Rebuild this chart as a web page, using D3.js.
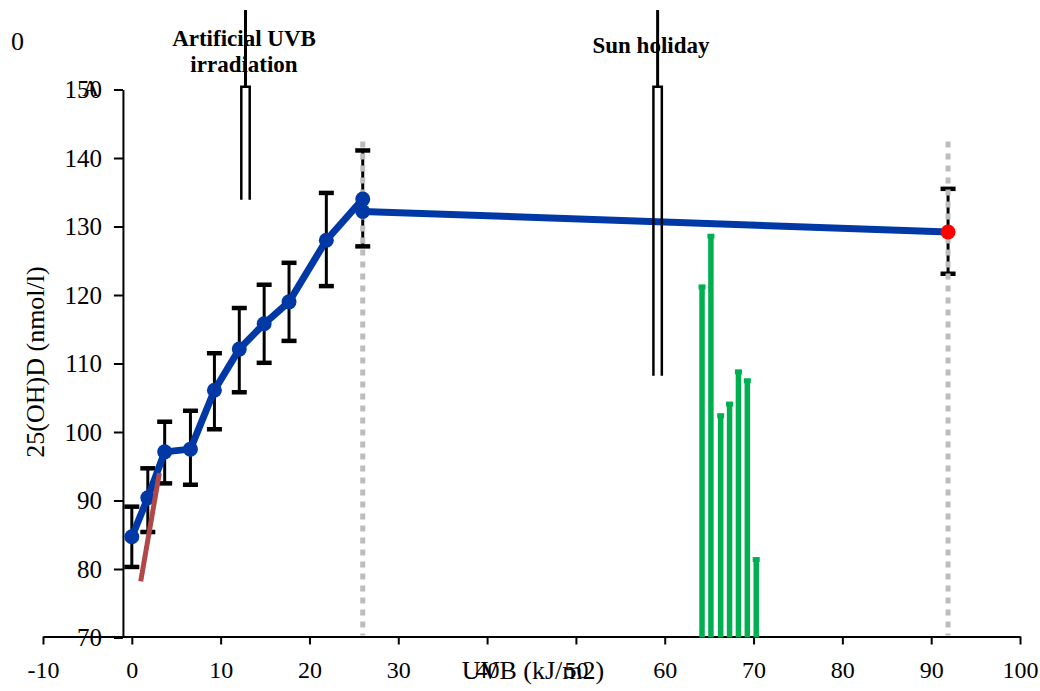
<!DOCTYPE html>
<html>
<head>
<meta charset="utf-8">
<script src="https://cdn.jsdelivr.net/npm/d3@7"></script>
<style>
  body { margin: 0; background: #fff; }
  text { font-family: "Liberation Serif", "Times New Roman", serif; fill: #000; }
</style>
</head>
<body>
<svg id="chart" width="1040" height="691"></svg>
<script>
// values
const xTickValues = [-10, 0, 10, 20, 30, 40, 50, 60, 70, 80, 90, 100];
const yTickValues = [70, 80, 90, 100, 110, 120, 130, 140, 150];

const uvbDose  = [0, 1.8, 3.7, 6.6, 9.3, 12.1, 14.9, 17.7, 21.9, 26.0, 26.0, 91.9];
const meanVitD = [84.7, 90.4, 97.1, 97.5, 106.1, 112.1, 115.8, 119.0, 128.0, 134.0, 132.2, 129.2];
const errLow   = [80.3, 85.4, 92.5, 92.3, 100.4, 105.8, 110.1, 113.3, 121.3, 127.1, null, 123.1];
const errHigh  = [89.1, 94.7, 101.5, 103.1, 111.5, 118.1, 121.5, 124.7, 134.9, 141.1, null, 135.5];

const trendX = [1.0, 3.1];
const trendY = [78.2, 94.0];

const sunDays = [64.2, 65.2, 66.3, 67.3, 68.3, 69.3, 70.3];
const sunVals = [121.4, 128.8, 102.6, 104.3, 109.0, 107.7, 81.6];

const markerX = [26.0, 91.9];
const markerTop = 142.4;

const arrowX = [12.8, 59.2];
const arrowBottom = [133.9, 108.2];
const arrowTop = 150.4;
const stemTop = 161.6;

const svg = d3.select('#chart');
const x = d3.scaleLinear().domain([-10, 100]).range([43, 1020]);
const y = d3.scaleLinear().domain([70, 150]).range([637.5, 89.5]);

// axes
const xAxis = svg.append('g').attr('transform', `translate(0,${y(70) - 1})`)
  .call(d3.axisBottom(x).tickValues(xTickValues).tickFormat(d => String(d))
    .tickSize(8).tickSizeOuter(0).tickPadding(16));
const yAxis = svg.append('g').attr('transform', `translate(${x(-1)},0)`)
  .call(d3.axisLeft(y).tickValues(yTickValues).tickFormat(d => String(d))
    .tickSize(9).tickSizeOuter(0).tickPadding(12));
[xAxis, yAxis].forEach(a => {
  a.select('.domain').attr('stroke', '#000').attr('stroke-width', 2);
  a.selectAll('.tick line').attr('stroke', '#000').attr('stroke-width', 2);
  a.selectAll('.tick text').attr('fill', '#000');
});
xAxis.selectAll('.tick text').style('font-size', '24px');
yAxis.selectAll('.tick text').style('font-size', '25px');

// green sun holiday bars
svg.append('g').selectAll('line').data(sunDays).enter().append('line')
  .attr('x1', d => x(d)).attr('x2', d => x(d))
  .attr('y1', y(70)).attr('y2', (d, i) => y(sunVals[i]))
  .attr('stroke', '#00b050').attr('stroke-width', 5.5);
svg.append('g').selectAll('rect').data(sunDays).enter().append('rect')
  .attr('x', d => x(d) - 3.5).attr('y', (d, i) => y(sunVals[i]) - 1)
  .attr('width', 7).attr('height', 5).attr('fill', '#00b050');

// error bars
const eb = uvbDose.map((d, i) => ({ x: d, lo: errLow[i], hi: errHigh[i] })).filter(d => d.lo != null);
const ebG = svg.append('g').attr('stroke', '#000');
ebG.selectAll('.v').data(eb).enter().append('line')
  .attr('x1', d => x(d.x)).attr('x2', d => x(d.x)).attr('y1', d => y(d.lo)).attr('y2', d => y(d.hi))
  .attr('stroke-width', 3);
ebG.selectAll('.c').data(eb.flatMap(d => [{ x: d.x, v: d.lo }, { x: d.x, v: d.hi }])).enter().append('line')
  .attr('x1', d => x(d.x) - 7.5).attr('x2', d => x(d.x) + 7.5).attr('y1', d => y(d.v)).attr('y2', d => y(d.v))
  .attr('stroke-width', 4.5);

// gray dotted markers
svg.append('g').selectAll('line').data(markerX).enter().append('line')
  .attr('x1', d => x(d)).attr('x2', d => x(d)).attr('y1', y(markerTop)).attr('y2', y(70) - 2)
  .attr('stroke', '#bdbdbd').attr('stroke-width', 5).attr('stroke-dasharray', '6,6');

// blue line + markers
const line = d3.line().x(d => x(d[0])).y(d => y(d[1]));
svg.append('path').datum(uvbDose.map((d, i) => [d, meanVitD[i]]))
  .attr('d', line).attr('fill', 'none').attr('stroke', '#0039a6').attr('stroke-width', 7)
  .attr('stroke-linejoin', 'round');
svg.append('g').selectAll('circle').data(uvbDose).enter().append('circle')
  .attr('cx', d => x(d)).attr('cy', (d, i) => y(meanVitD[i])).attr('r', 7.5)
  .attr('fill', (d, i) => i === uvbDose.length - 1 ? '#ff0000' : '#0039a6');

// red trend line
svg.append('path').datum(trendX.map((d, i) => [d, trendY[i]]))
  .attr('d', line).attr('fill', 'none').attr('stroke', '#b04848').attr('stroke-width', 5);

// annotation arrows
arrowX.forEach((ax, i) => {
  const cx = x(ax);
  svg.append('line').attr('x1', cx).attr('x2', cx).attr('y1', y(stemTop)).attr('y2', y(arrowTop))
    .attr('stroke', '#000').attr('stroke-width', 3);
  svg.append('path')
    .attr('d', `M${cx - 4.2},${y(arrowBottom[i])}V${y(arrowTop)}H${cx + 4.2}V${y(arrowBottom[i])}`)
    .attr('fill', 'none').attr('stroke', '#000').attr('stroke-width', 2.5);
});

// texts
const bold = { 'font-weight': 'bold', 'font-size': '23px', 'text-anchor': 'middle' };
function addText(str, px, py, attrs) {
  const t = svg.append('text').attr('x', px).attr('y', py).text(str);
  Object.entries(attrs).forEach(([k, v]) => t.style(k, v));
  return t;
}
addText('Artificial UVB', 244, 46, bold);
addText('irradiation', 244, 72, bold);
addText('Sun holiday', 651, 53, bold);
addText('0', 11, 50, { 'font-size': '26px' });
addText('A', 82, 96, { 'font-size': '24px' });
addText('UVB (kJ/m2)', 533, 679, { 'font-size': '26px', 'text-anchor': 'middle' });
svg.append('text').attr('transform', 'translate(44,362) rotate(-90)')
  .style('font-size', '26px').style('text-anchor', 'middle').text('25(OH)D (nmol/l)');
</script>
</body>
</html>
